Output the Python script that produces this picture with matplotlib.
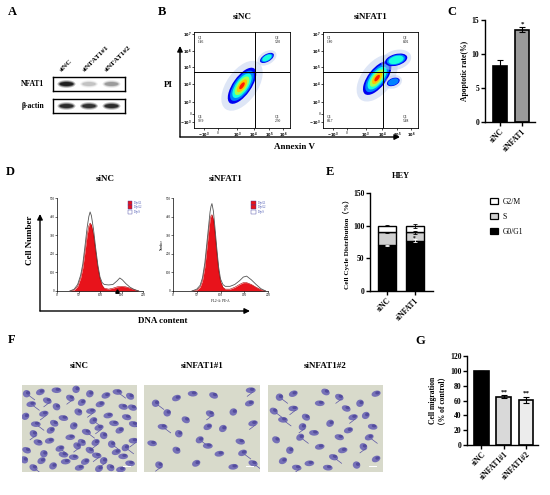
import matplotlib
matplotlib.use("Agg")

import numpy as np
import matplotlib.pyplot as plt
from matplotlib.patches import Ellipse, Rectangle, Patch
from matplotlib import cm

plt.rcParams["font.family"] = ["Liberation Serif", "DejaVu Serif", "Noto Sans CJK SC"]
plt.rcParams["font.weight"] = "bold"
plt.rcParams["axes.labelweight"] = "bold"

# -------------------------------------------------
# DATA
# -------------------------------------------------

# A: western blot (relative band intensity)
blot_lanes = ["siNC", "siNFAT1#1", "siNFAT1#2"]
nfat1_bands = [1.0, 0.18, 0.32]
actin_bands = [0.9, 0.85, 0.9]

# B: flow cytometry quadrants
flow_titles = ["siNC", "siNFAT1"]
flow_q1 = ["1.46", "1.80"]
flow_q2 = ["5.30", "8.02"]
flow_q3 = ["2.30", "5.48"]
flow_q4 = ["90.9", "84.7"]
# clusters: (x, y, length, width, angle, levels) in axis fraction
flow_clusters = [
    [(0.50, 0.44, 0.44, 0.19, 55, 6), (0.76, 0.73, 0.16, 0.08, 30, 3)],
    [(0.57, 0.52, 0.42, 0.19, 52, 6), (0.77, 0.71, 0.24, 0.12, 15, 3),
     (0.74, 0.48, 0.14, 0.08, 20, 2)],
]
flow_yticks = [0.06, 0.146, 0.27, 0.46, 0.64, 0.80, 0.98]
flow_ylabels = ["$-10^3$", "0", "$10^3$", "$10^4$", "$10^5$", "$10^6$", "$10^7$"]
flow_xticks = [0.1, 0.25, 0.45, 0.62, 0.78, 0.93]
flow_xlabels = ["$-10^3$", "0", "$10^3$", "$10^4$", "$10^5$", "$10^6$"]

# C: apoptotic rate
apo_groups = ["siNC", "siNFAT1"]
apo_mean = [8.2, 13.6]
apo_err = [0.9, 0.3]

# D: DNA histograms (channel, normalized count)
hist_titles = ["siNC", "siNFAT1"]
hist_fit_x = [
    [30, 40, 48, 55, 60, 65, 70, 74, 77, 80, 85, 90, 95, 100, 105, 110, 120,
     130, 140, 150, 160, 170, 180, 190],
    [40, 50, 57, 62, 67, 71, 75, 78, 80, 82, 85, 88, 92, 96, 100, 105, 110,
     120, 130, 140, 148, 155, 165, 175, 185, 195],
]
hist_fit_y = [
    [0, 0.01, 0.05, 0.14, 0.25, 0.42, 0.60, 0.70, 0.73, 0.71, 0.60, 0.42, 0.25,
     0.13, 0.06, 0.03, 0.02, 0.03, 0.045, 0.05, 0.045, 0.03, 0.015, 0],
    [0, 0.01, 0.04, 0.11, 0.26, 0.45, 0.64, 0.77, 0.81, 0.82, 0.77, 0.64, 0.42,
     0.22, 0.10, 0.04, 0.02, 0.02, 0.04, 0.07, 0.09, 0.09, 0.07, 0.04, 0.015,
     0],
]
hist_raw_x = [
    [30, 40, 48, 55, 60, 65, 70, 74, 77, 80, 85, 90, 95, 100, 105, 110, 120,
     130, 140, 146, 152, 160, 170, 180, 190],
    [40, 50, 57, 62, 67, 71, 75, 78, 80, 82, 85, 88, 92, 96, 100, 105, 110,
     120, 130, 140, 148, 155, 165, 175, 185, 195],
]
hist_raw_y = [
    [0, 0.02, 0.07, 0.17, 0.29, 0.48, 0.68, 0.80, 0.85, 0.81, 0.66, 0.46, 0.28,
     0.15, 0.09, 0.07, 0.065, 0.07, 0.11, 0.14, 0.12, 0.08, 0.04, 0.015, 0],
    [0, 0.02, 0.06, 0.14, 0.30, 0.50, 0.70, 0.85, 0.91, 0.94, 0.86, 0.70, 0.47,
     0.26, 0.13, 0.07, 0.05, 0.05, 0.07, 0.11, 0.15, 0.16, 0.12, 0.07, 0.025,
     0],
]

# E: cell cycle distribution (HEY)
cc_groups = ["siNC", "siNFAT1"]
cc_g1 = [70, 77]
cc_s = [20, 13]
cc_g2 = [10, 10]
cc_g1_err = [1.0, 2.0]
cc_s_err = [1.0, 2.0]
cc_g2_err = [0.8, 3.0]

# F: transwell images, cell positions in percent of the image
img_titles = ["siNC", "siNFAT1#1", "siNFAT1#2"]
img_cells = [
    [(4, 10), (16, 8), (30, 6), (42, 15), (59, 10), (68, 22), (83, 8), (94, 13),
     (3, 36), (19, 33), (36, 38), (49, 31), (62, 41), (75, 35), (91, 37),
     (10, 56), (25, 52), (42, 60), (56, 54), (71, 58), (85, 52), (97, 64),
     (4, 75), (19, 79), (33, 73), (45, 83), (59, 75), (71, 87), (82, 77),
     (94, 90), (10, 95), (27, 93), (50, 95), (65, 81), (77, 95), (52, 20),
     (8, 22), (88, 25), (30, 25), (64, 66), (38, 88), (14, 66), (78, 68),
     (55, 88), (88, 82), (22, 18), (47, 5), (73, 12), (12, 45), (28, 44),
     (45, 47), (67, 49), (80, 44), (52, 66), (90, 72), (24, 64), (36, 80),
     (48, 70), (67, 96), (86, 97), (97, 45), (2, 86), (17, 87), (60, 30),
     (96, 26)],
    [(10, 21), (28, 15), (42, 10), (57, 33), (77, 31), (91, 21), (16, 48),
     (36, 40), (68, 50), (94, 44), (7, 67), (28, 75), (48, 63), (65, 79),
     (83, 65), (13, 92), (45, 90), (77, 94), (94, 90), (30, 56), (55, 48),
     (92, 6), (60, 12), (20, 32), (85, 78), (55, 70)],
    [(10, 14), (22, 10), (45, 21), (62, 14), (80, 21), (94, 10), (13, 40),
     (33, 37), (54, 44), (74, 37), (91, 48), (7, 63), (28, 60), (45, 71),
     (62, 60), (83, 71), (13, 87), (36, 90), (57, 83), (77, 92), (94, 85),
     (22, 27), (68, 27), (19, 75), (88, 60), (40, 55), (50, 8), (30, 48),
     (70, 52), (52, 95), (5, 30), (85, 35), (65, 75), (25, 95)],
]

# G: cell migration
mig_groups = ["siNC", "siNFAT1#1", "siNFAT1#2"]
mig_mean = [100, 65, 61]
mig_err = [0, 2, 4]
mig_colors = ["black", "#d9d9d9", "#ececec"]

# -------------------------------------------------
# FIGURE
# -------------------------------------------------

W, H = 550, 495
fig = plt.figure(figsize=(W / 100, H / 100), dpi=100)

ov = fig.add_axes([0, 0, 1, 1])
ov.set_xlim(0, W)
ov.set_ylim(H, 0)
ov.axis("off")


def px_axes(x0, y0, x1, y1):
    return fig.add_axes([x0 / W, 1 - y1 / H, (x1 - x0) / W, (y1 - y0) / H])


def style_bar_axes(ax):
    for s in ["top", "right"]:
        ax.spines[s].set_visible(False)
    for s in ["left", "bottom"]:
        ax.spines[s].set_linewidth(1.0)
    ax.tick_params(axis="both", labelsize=5.5, length=3, width=1.0, pad=1)


def arrow(x0, y0, x1, y1):
    ov.annotate("", xy=(x1, y1), xytext=(x0, y0),
                arrowprops=dict(arrowstyle="-|>", lw=1.0, color="black",
                                mutation_scale=8, shrinkA=0, shrinkB=0))


panel_font = dict(fontsize=9, fontweight="bold", ha="center", va="center")
for letter, x, y in [("A", 12, 12), ("B", 162, 12), ("C", 452, 12),
                     ("D", 10, 172), ("E", 330, 172), ("F", 12, 340),
                     ("G", 420, 341)]:
    ov.text(x, y, letter, **panel_font)

# -------------------------------------------------
# A: western blot
# -------------------------------------------------
for (y0, y1), bands, name in [((77, 91), nfat1_bands, "NFAT1"),
                              ((99, 113), actin_bands, "β-actin")]:
    ax = px_axes(53, y0, 125, y1)
    ax.set_xlim(-0.6, 2.6)
    ax.set_ylim(0, 1)
    ax.set_xticks([])
    ax.set_yticks([])
    for s in ax.spines.values():
        s.set_linewidth(1.0)
    for i, b in enumerate(bands):
        for k, (w, h, a) in enumerate([(0.8, 0.55, 0.25), (0.7, 0.4, 0.45),
                                       (0.6, 0.28, 0.7)]):
            ax.add_patch(Ellipse((i, 0.5), w, h, color="black",
                                 alpha=a * b, lw=0))
    ax.text(-0.12, 0.5, name, transform=ax.transAxes, ha="right",
            va="center", fontsize=5.5)
    if name == "NFAT1":
        for i, lab in enumerate(blot_lanes):
            ax.text(i - 0.25, 1.45, lab, rotation=45, rotation_mode="anchor",
                    ha="left", va="center", fontsize=5.2, clip_on=False)

# -------------------------------------------------
# B: flow cytometry
# -------------------------------------------------
flow_boxes = [(194, 32, 290, 128), (323, 32, 418, 128)]
jet_levels = [0.1, 0.25, 0.38, 0.55, 0.7, 0.88]
for j, box in enumerate(flow_boxes):
    ax = px_axes(*box)
    ax.set_xlim(0, 1)
    ax.set_ylim(0, 1)
    for s in ax.spines.values():
        s.set_linewidth(0.6)
    for (cx, cy, ln, wd, ang, nlev) in flow_clusters[j]:
        ax.add_patch(Ellipse((cx, cy), ln * 1.35, wd * 1.7, angle=ang,
                             color="#b7c8ec", alpha=0.45, lw=0))
        for k in range(nlev):
            f = 1 - k / 6.2
            ax.add_patch(Ellipse((cx, cy), ln * f, wd * f, angle=ang,
                                 color=cm.jet(jet_levels[k]), lw=0))
    ax.axvline(0.634, color="black", lw=0.7)
    ax.axhline(0.58, color="black", lw=0.7)
    qf = dict(fontsize=2.6, fontweight="normal", transform=ax.transAxes)
    ax.text(0.04, 0.96, "Q1\n" + flow_q1[j], va="top", ha="left", **qf)
    ax.text(0.84, 0.96, "Q2\n" + flow_q2[j], va="top", ha="left", **qf)
    ax.text(0.84, 0.05, "Q3\n" + flow_q3[j], va="bottom", ha="left", **qf)
    ax.text(0.04, 0.05, "Q4\n" + flow_q4[j], va="bottom", ha="left", **qf)
    ax.set_yticks(flow_yticks)
    ax.set_yticklabels(flow_ylabels, fontsize=2.6, fontweight="normal")
    ax.set_xticks(flow_xticks)
    ax.set_xticklabels(flow_xlabels, fontsize=2.6, fontweight="normal")
    ax.tick_params(length=1.5, width=0.5, pad=0.5)
    ov.text((box[0] + box[2]) / 2, 17, flow_titles[j], fontsize=6.5,
            ha="center", va="center")

ov.text(168, 85, "PI", fontsize=6.5, ha="center", va="center")
arrow(180, 137, 180, 46)
arrow(180, 137, 400, 137)
ov.text(294, 147, "Annexin V", fontsize=6.5, ha="center", va="center")

# -------------------------------------------------
# C: apoptotic rate
# -------------------------------------------------
ax = px_axes(485, 20, 535, 122)
ax.bar([0, 1], apo_mean, width=0.64, color=["black", "#9a9a9a"],
       edgecolor="black", linewidth=1.2, yerr=apo_err,
       error_kw=dict(lw=0.8, capsize=2, capthick=0.8))
ax.set_xlim(-0.68, 1.59)
ax.set_ylim(0, 15)
ax.set_yticks([0, 5, 10, 15])
style_bar_axes(ax)
ax.set_xticks([0, 1])
ax.set_xticklabels(apo_groups, rotation=45, ha="right",
                   rotation_mode="anchor", fontsize=5.5)
ax.set_ylabel("Apoptotic rate(%)", fontsize=5.5, labelpad=2)
ax.text(1, apo_mean[1] + apo_err[1] + 0.15, "*", ha="center", va="bottom",
        fontsize=5)

# -------------------------------------------------
# D: DNA content histograms
# -------------------------------------------------
hist_boxes = [(57, 198, 143, 291), (173, 198, 268, 291)]
for j, box in enumerate(hist_boxes):
    ax = px_axes(*box)
    ax.fill_between(hist_fit_x[j], hist_fit_y[j], color="#e8131b", lw=0)
    ax.plot(hist_fit_x[j], hist_fit_y[j], color="#b00000", lw=0.4)
    ax.plot(hist_raw_x[j], hist_raw_y[j], color="#555555", lw=0.6)
    ax.set_xlim(0, 200)
    ax.set_ylim(0, 1)
    for s in ["top", "right"]:
        ax.spines[s].set_visible(False)
    for s in ["left", "bottom"]:
        ax.spines[s].set_linewidth(0.5)
    ax.set_xticks([0, 50, 100, 150, 200])
    ax.set_xticklabels(["0", "50", "100", "150", "200"], fontsize=2.4,
                       fontweight="normal")
    ax.set_yticks([0, 0.2, 0.4, 0.6, 0.8, 1.0])
    ax.set_yticklabels(["0", "100", "200", "300", "400", "500"], fontsize=2.4,
                       fontweight="normal")
    ax.tick_params(length=1.2, width=0.4, pad=0.5)
    for k, (lab, col) in enumerate([("Dip G1", "#e8131b"),
                                    ("Dip G2", "#e8131b"),
                                    ("Dip S", "white")]):
        yk = 0.95 - k * 0.05
        ax.add_patch(Rectangle((0.82, yk - 0.02), 0.05, 0.04, color=col,
                               ec="#4040a0", lw=0.3, transform=ax.transAxes))
        ax.text(0.89, yk, lab, fontsize=1.8, color="#2030a0",
                fontweight="normal", va="center", transform=ax.transAxes)
    if j == 0:
        ax.plot([140], [0.0], marker="^", color="black", ms=2.5,
                clip_on=False)
    else:
        ax.set_xlabel("FL2-A: PE-A", fontsize=2.4, fontweight="normal",
                      labelpad=1)
        ax.set_ylabel("Number", fontsize=2.4, fontweight="normal", labelpad=1)
    ov.text((box[0] + box[2]) / 2 + 5, 179, hist_titles[j], fontsize=6.5,
            ha="center", va="center")

ov.text(30, 240, "Cell Number", rotation=90, fontsize=6.5, ha="center",
        va="center")
arrow(40, 311, 40, 214)
arrow(40, 311, 250, 311)
ov.text(163, 321, "DNA content", fontsize=6.5, ha="center", va="center")

# -------------------------------------------------
# E: cell cycle distribution
# -------------------------------------------------
ax = px_axes(370, 193, 433, 291)
xs = [0, 1]
s_bottom = [a for a in cc_g1]
g2_bottom = [a + b for a, b in zip(cc_g1, cc_s)]
ekw = dict(lw=0.6, capsize=1.5, capthick=0.6)
ax.bar(xs, cc_g1, width=0.65, color="black", edgecolor="black",
       linewidth=1.0, yerr=cc_g1_err, error_kw=dict(ekw, ecolor="white"))
ax.bar(xs, cc_s, bottom=s_bottom, width=0.65, color="#d0d0d0",
       edgecolor="black", linewidth=1.0, yerr=cc_s_err, error_kw=ekw)
ax.bar(xs, cc_g2, bottom=g2_bottom, width=0.65, color="white",
       edgecolor="black", linewidth=1.0, yerr=cc_g2_err, error_kw=ekw)
ax.text(1, cc_g1[1] + cc_s[1] / 2 - 3, "*", ha="center", va="center",
        fontsize=4)
ax.set_xlim(-0.62, 1.67)
ax.set_ylim(0, 150)
ax.set_yticks([0, 50, 100, 150])
style_bar_axes(ax)
ax.set_xticks(xs)
ax.set_xticklabels(cc_groups, rotation=45, ha="right",
                   rotation_mode="anchor", fontsize=5.5)
ax.set_ylabel("Cell Cycle Distribution（%）", fontsize=5.2, labelpad=2)
ov.text(401, 176, "HEY", fontsize=6, ha="center", va="center")
leg_handles = [Patch(facecolor="white", edgecolor="black", lw=0.9),
               Patch(facecolor="#d0d0d0", edgecolor="black", lw=0.9),
               Patch(facecolor="black", edgecolor="black", lw=0.9)]
fig.legend(leg_handles, ["G2/M", "S", "G0/G1"], loc="upper left",
           bbox_to_anchor=(483 / W, 1 - 191 / H), frameon=False,
           handlelength=1.1, handleheight=0.8,
           labelspacing=0.9, handletextpad=0.6,
           prop=dict(weight="normal", size=5.5))

# -------------------------------------------------
# F: transwell images
# -------------------------------------------------
img_boxes = [(22, 385, 137, 472), (144, 385, 260, 472), (268, 385, 383, 472)]
for j, box in enumerate(img_boxes):
    ax = px_axes(*box)
    ax.set_xlim(0, 100)
    ax.set_ylim(100, 0)
    ax.set_facecolor("#d8dacb")
    ax.set_xticks([])
    ax.set_yticks([])
    for s in ax.spines.values():
        s.set_visible(False)
    for i, (cx, cy) in enumerate(img_cells[j]):
        ang = (i * 47) % 180
        ax.add_patch(Ellipse((cx, cy), 6.5, 8.5, angle=ang,
                             color="#6c66b5", alpha=0.9, lw=0))
        ax.add_patch(Ellipse((cx + 1.2, cy - 1.0), 3.5, 4.0, angle=ang,
                             color="#4b4397", alpha=0.8, lw=0))
        if i % 3 == 0:
            d = 5 if i % 2 == 0 else -5
            ax.plot([cx + 2, cx + 2 + d], [cy + 2, cy + 7], color="#5a54a5",
                    lw=0.5)
    ax.add_patch(Rectangle((88, 93), 7, 1.5, color="white", lw=0))
    ov.text((box[0] + box[2]) / 2, 366, img_titles[j], fontsize=6.5,
            ha="center", va="center")

# -------------------------------------------------
# G: cell migration
# -------------------------------------------------
ax = px_axes(467, 356, 538, 445)
xg = np.arange(len(mig_groups))
ax.bar(xg, mig_mean, width=0.67, color=mig_colors, edgecolor="black",
       linewidth=1.2, yerr=mig_err,
       error_kw=dict(lw=0.8, capsize=2, capthick=0.8))
for i in [1, 2]:
    ax.text(i, mig_mean[i] + mig_err[i] + 1, "**", ha="center", va="bottom",
            fontsize=5)
ax.set_xlim(-0.65, 2.54)
ax.set_ylim(0, 120)
ax.set_yticks([0, 20, 40, 60, 80, 100, 120])
style_bar_axes(ax)
ax.set_xticks(xg)
ax.set_xticklabels(mig_groups, rotation=45, ha="right",
                   rotation_mode="anchor", fontsize=5.5)
ax.set_ylabel("Cell migration\n（% of control）", fontsize=5.5, labelpad=2,
              linespacing=1.3)

fig.savefig("out.png", dpi=100)
